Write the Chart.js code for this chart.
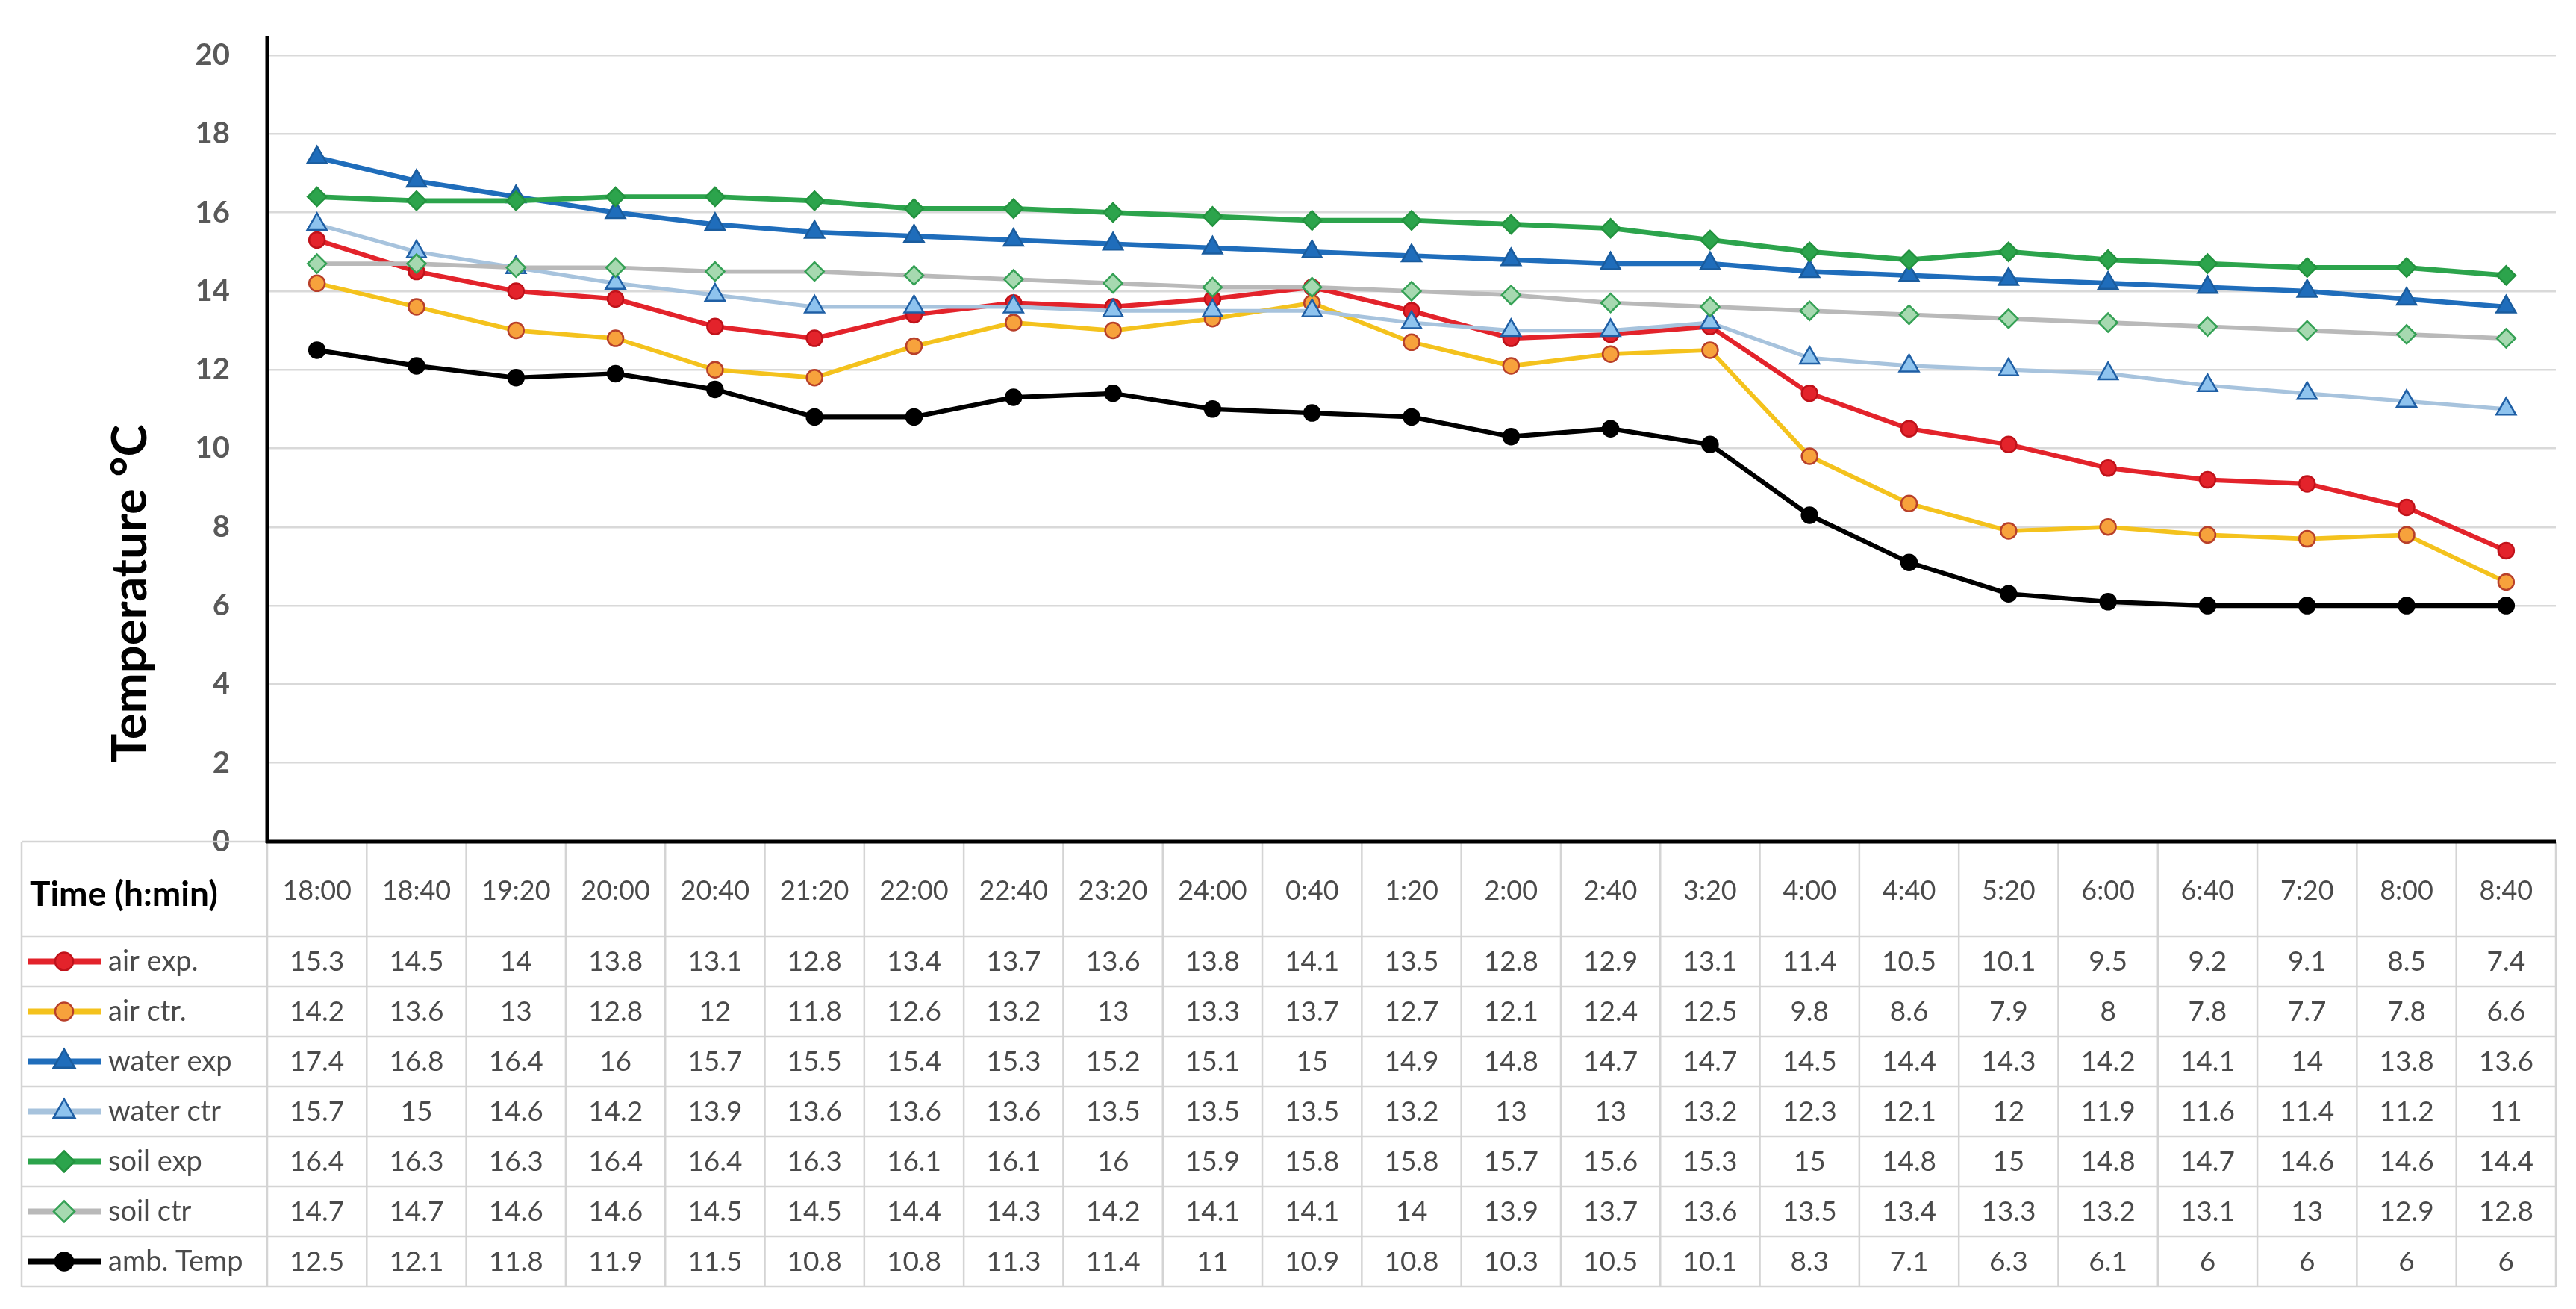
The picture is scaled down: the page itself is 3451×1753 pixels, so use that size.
<!DOCTYPE html>
<html><head><meta charset="utf-8">
<script src="https://cdn.jsdelivr.net/npm/chart.js@4.4.1/dist/chart.umd.min.js"></script>
<style>html,body{margin:0;padding:0;background:#fff;overflow:hidden}</style>
</head><body>
<canvas id="c" width="3451" height="1753"></canvas>
<script>
const times = ["18:00","18:40","19:20","20:00","20:40","21:20","22:00","22:40","23:20","24:00","0:40","1:20","2:00","2:40","3:20","4:00","4:40","5:20","6:00","6:40","7:20","8:00","8:40"];
const airExp   = [15.3,14.5,14,13.8,13.1,12.8,13.4,13.7,13.6,13.8,14.1,13.5,12.8,12.9,13.1,11.4,10.5,10.1,9.5,9.2,9.1,8.5,7.4];
const airCtr   = [14.2,13.6,13,12.8,12,11.8,12.6,13.2,13,13.3,13.7,12.7,12.1,12.4,12.5,9.8,8.6,7.9,8,7.8,7.7,7.8,6.6];
const waterExp = [17.4,16.8,16.4,16,15.7,15.5,15.4,15.3,15.2,15.1,15,14.9,14.8,14.7,14.7,14.5,14.4,14.3,14.2,14.1,14,13.8,13.6];
const waterCtr = [15.7,15,14.6,14.2,13.9,13.6,13.6,13.6,13.5,13.5,13.5,13.2,13,13,13.2,12.3,12.1,12,11.9,11.6,11.4,11.2,11];
const soilExp  = [16.4,16.3,16.3,16.4,16.4,16.3,16.1,16.1,16,15.9,15.8,15.8,15.7,15.6,15.3,15,14.8,15,14.8,14.7,14.6,14.6,14.4];
const soilCtr  = [14.7,14.7,14.6,14.6,14.5,14.5,14.4,14.3,14.2,14.1,14.1,14,13.9,13.7,13.6,13.5,13.4,13.3,13.2,13.1,13,12.9,12.8];
const ambTemp  = [12.5,12.1,11.8,11.9,11.5,10.8,10.8,11.3,11.4,11,10.9,10.8,10.3,10.5,10.1,8.3,7.1,6.3,6.1,6,6,6,6];
const seriesNames = ["air exp.","air ctr.","water exp","water ctr","soil exp","soil ctr","amb. Temp"];
const yTicks = [0,2,4,6,8,10,12,14,16,18,20];
const headerLabel = "Time (h:min)";
const yTitle = "Temperature \u00B0C";

const FONT = 'Lato, "Open Sans", "Noto Sans", sans-serif';

const styles = [
  {line:'#E3232B', fill:'#E3232B', border:'#C0121A', style:'circle', r:10.5, lw:6.2},
  {line:'#F4C21D', fill:'#F7A23C', border:'#B8402A', style:'circle', r:10.5, lw:5.8},
  {line:'#1F6DBB', fill:'#1F6DBB', border:'#1A5C9E', style:'triangle', r:15, lw:6.5},
  {line:'#A7C3DD', fill:'#8EC3EE', border:'#1F5FA5', style:'triangle', r:15, lw:5.2},
  {line:'#2CA44C', fill:'#2CA44C', border:'#23933F', style:'rectRot', r:12.5, lw:6.8},
  {line:'#B9B9B9', fill:'#A6D9B0', border:'#35A155', style:'rectRot', r:12.5, lw:5.8},
  {line:'#000000', fill:'#000000', border:'#000000', style:'circle', r:10.5, lw:6.2}
];
const seriesData = [airExp, airCtr, waterExp, waterCtr, soilExp, soilCtr, ambTemp];

function drawMarker(ctx, style, x, y, r, fill, border, bw){
  ctx.save();
  ctx.beginPath();
  if(style==='circle'){ ctx.arc(x,y,r,0,Math.PI*2); }
  else if(style==='triangle'){
    ctx.moveTo(x, y - r);
    ctx.lineTo(x + Math.sin(2*Math.PI/3)*r, y - Math.cos(2*Math.PI/3)*r);
    ctx.lineTo(x + Math.sin(4*Math.PI/3)*r, y - Math.cos(4*Math.PI/3)*r);
    ctx.closePath();
  } else if(style==='rectRot'){
    ctx.moveTo(x, y - r); ctx.lineTo(x + r, y); ctx.lineTo(x, y + r); ctx.lineTo(x - r, y); ctx.closePath();
  }
  ctx.fillStyle = fill; ctx.fill();
  ctx.lineWidth = bw; ctx.strokeStyle = border; ctx.stroke();
  ctx.restore();
}

const decorPlugin = {
  id:'decor',
  afterDraw(chart){
    const ctx = chart.ctx;
    const xs = chart.scales.x, ys = chart.scales.y;
    const area = chart.chartArea;
    const top = ys.getPixelForValue(0);
    const colW = (area.right - area.left) / times.length;
    const leftEdge = 29;
    const headerH = 127, rowH = 67;
    const bottom = top + headerH + rowH * seriesNames.length;

    ctx.save();
    // table grid
    ctx.strokeStyle = '#D4D4D4';
    ctx.lineWidth = 2.5;
    ctx.beginPath();
    ctx.moveTo(leftEdge, top); ctx.lineTo(area.left, top);
    for(let k=0;k<=seriesNames.length;k++){
      const y = top + headerH + k*rowH;
      ctx.moveTo(leftEdge, y); ctx.lineTo(area.right, y);
    }
    ctx.moveTo(leftEdge, top); ctx.lineTo(leftEdge, bottom);
    for(let i=0;i<=times.length;i++){
      const x = xs.getPixelForValue(i) - colW/2;
      ctx.moveTo(x, top); ctx.lineTo(x, bottom);
    }
    ctx.moveTo(area.right, top); ctx.lineTo(area.right, bottom);
    ctx.stroke();

    // axis lines
    ctx.strokeStyle = '#000';
    ctx.lineWidth = 5;
    ctx.beginPath();
    ctx.moveTo(area.left, ys.getPixelForValue(20) - 26);
    ctx.lineTo(area.left, top + 2);
    ctx.moveTo(area.left - 2, top); ctx.lineTo(area.right, top);
    ctx.stroke();

    // header
    ctx.textBaseline = 'middle';
    ctx.fillStyle = '#000';
    ctx.font = 'bold 46px ' + FONT;
    ctx.textAlign = 'left';
    ctx.fillText(headerLabel, 40, top + headerH/2 + 8);
    ctx.font = '36px ' + FONT;
    ctx.fillStyle = '#4A4A4A';
    ctx.textAlign = 'center';
    times.forEach((t,i)=>{ ctx.fillText(t, xs.getPixelForValue(i), top + headerH/2 + 3); });

    // rows
    seriesNames.forEach((name, k)=>{
      const cy = top + headerH + k*rowH + rowH/2;
      const st = styles[k];
      ctx.strokeStyle = st.line; ctx.lineWidth = 8; ctx.lineCap = 'butt';
      ctx.beginPath(); ctx.moveTo(37, cy); ctx.lineTo(135, cy); ctx.stroke();
      drawMarker(ctx, st.style, 86, cy, st.r + 1.5, st.fill, st.border, 2.5);
      ctx.fillStyle = '#4A4A4A';
      ctx.font = '38px ' + FONT;
      ctx.textAlign = 'left';
      ctx.fillText(name, 145, cy);
      ctx.textAlign = 'center';
      ctx.font = '37px ' + FONT;
      seriesData[k].forEach((v,i)=>{ ctx.fillText(String(v), xs.getPixelForValue(i), cy + 1); });
    });

    // y title
    ctx.save();
    ctx.translate(175, 795);
    ctx.rotate(-Math.PI/2);
    ctx.font = 'bold 65px ' + FONT;
    ctx.fillStyle = '#000';
    ctx.textAlign = 'center';
    ctx.textBaseline = 'middle';
    ctx.fillText(yTitle, 0, 0);
    ctx.restore();

    ctx.restore();
  }
};

new Chart(document.getElementById('c'), {
  type:'line',
  data:{
    labels: times,
    datasets: seriesNames.map((name,k)=>({
      label: name,
      data: seriesData[k],
      borderColor: styles[k].line,
      borderWidth: styles[k].lw,
      backgroundColor: styles[k].fill,
      pointStyle: styles[k].style,
      pointRadius: styles[k].r,
      pointBackgroundColor: styles[k].fill,
      pointBorderColor: styles[k].border,
      pointBorderWidth: 2.5,
      tension: 0,
      fill: false,
      order: seriesNames.length - k
    }))
  },
  options:{
    responsive:false,
    animation:false,
    layout:{ padding:{ left:0, top:66, right:27, bottom:626 } },
    plugins:{ legend:{display:false}, tooltip:{enabled:false} },
    scales:{
      x:{ type:'category', offset:true, display:false },
      y:{
        min:0, max:20,
        afterFit(scale){ scale.width = 358; },
        afterBuildTicks(scale){ scale.ticks = yTicks.map(v=>({value:v})); },
        border:{ display:false },
        grid:{ drawTicks:false, color:'#D9D9D9', lineWidth:2.5 },
        ticks:{ padding:50, color:'#595959', font:{ family:FONT, size:40, weight:'bold' } }
      }
    }
  },
  plugins:[decorPlugin]
});
</script>
</body></html>
